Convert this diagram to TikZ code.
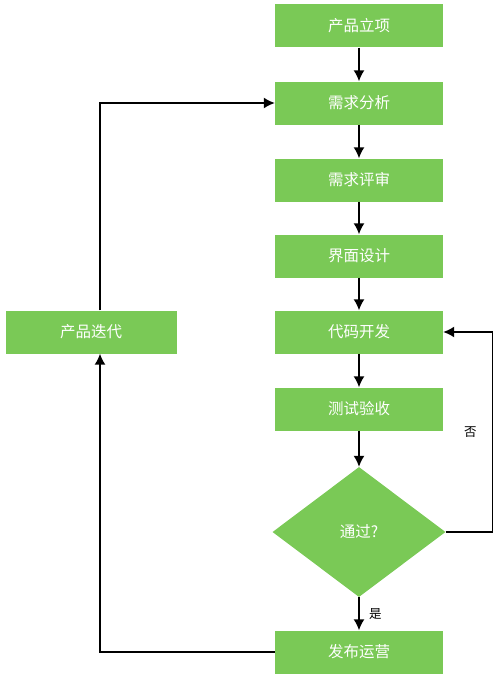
\documentclass[tikz,border=0pt]{standalone}
\usepackage{fontspec}
\newfontfamily\cjk{Noto Sans CJK SC}
\usetikzlibrary{shapes, shapes.geometric, arrows.meta}
\definecolor{boxgreen}{RGB}{122,201,86}
\tikzstyle{process} = [rectangle, minimum width=168pt, minimum height=43pt, text centered, fill=boxgreen, text=white, font=\cjk\fontsize{15.5}{18}\selectfont]
\tikzstyle{decision} = [diamond, minimum width=173pt, minimum height=130pt, inner sep=1pt, text centered, fill=boxgreen, text=white, font=\cjk\fontsize{15.5}{18}\selectfont]
\tikzstyle{arrow} = [line width=1.5pt,->,>={Latex[length=11pt,width=11pt]}]
\tikzstyle{edgelabel} = [font=\cjk\fontsize{12.5}{14}\selectfont]

\begin{document}
\begin{tikzpicture}[x=1pt, y=1pt, node distance=77pt]
    \useasboundingbox (0,0) rectangle (499,-677);
    \node (start) [process] at (359,-26) {产品立项};
    \node (analysis) [process, below of=start] {需求分析};
    \node (review) [process, below of=analysis] {需求评审};
    \node (design) [process, below of=review, yshift=1pt] {界面设计};
    \node (code) [process, below of=design, yshift=1pt] {代码开发};
    \node (test) [process, below of=code] {测试验收};
    \node (check) [decision, below of=test, yshift=-46pt] {通过?};
    \node (release) [process, below of=check, yshift=-43pt] {发布运营};
    \node (iterate) [process, minimum width=171pt, left of=code, xshift=-191pt] {产品迭代};

    \draw [arrow] (start) -- (analysis);
    \draw [arrow] (analysis) -- (review);
    \draw [arrow] (review) -- (design);
    \draw [arrow] (design) -- (code);
    \draw [arrow] (code) -- (test);
    \draw [arrow] (test) -- (check);
    \draw [arrow] (check) -- node[edgelabel, anchor=west, xshift=6pt] {是} (release);
    \draw [arrow] (check.east) -- ++(47,0) |- node[edgelabel, pos=0.25, anchor=east, xshift=-12pt] {否} (code.east);
    \draw [arrow] (release.west) -| ([xshift=9pt]iterate.south);
    \draw [arrow] ([xshift=9pt]iterate.north) |- (analysis.west);
  \end{tikzpicture}
\end{document}
